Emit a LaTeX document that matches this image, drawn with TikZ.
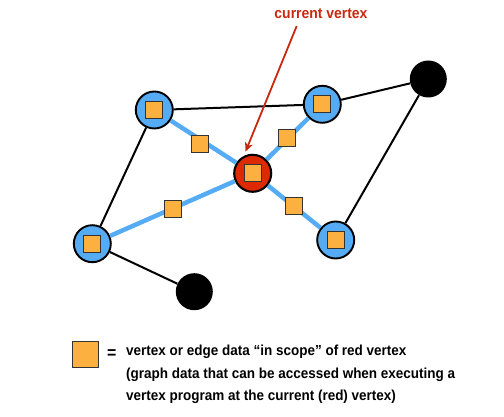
\documentclass[tikz,border=0pt]{standalone}
\usepackage{fontspec}
\setmainfont{Liberation Sans}[FakeStretch=0.93]
\usetikzlibrary{arrows.meta}
\definecolor{vblue}{HTML}{55ACF5}
\definecolor{dorange}{HTML}{FBB03F}
\definecolor{vred}{HTML}{DD2A00}
\definecolor{lred}{HTML}{C8280E}
\begin{document}
\begin{tikzpicture}[x=1pt,y=-1pt,
  bvert/.style={circle,draw=black,line width=1.9pt,fill=vblue,minimum size=37pt,inner sep=0pt},
  rvert/.style={circle,draw=black,line width=2.1pt,fill=vred,minimum size=37pt,inner sep=0pt},
  kvert/.style={circle,fill=black,minimum size=37pt,inner sep=0pt},
  dsq/.style={draw=black!80,line width=0.7pt,fill=dorange,minimum size=17pt,inner sep=0pt},
  bedge/.style={vblue,line width=4.5pt},
  kedge/.style={black,line width=2pt},
  txt/.style={font=\bfseries\fontsize{14.5}{22.5}\selectfont,align=left,inner sep=0pt}]
\useasboundingbox (0,0) rectangle (504,417);
% vertices
\node[bvert] (tl) at (154.3,110) {};
\node[bvert] (tr) at (322.3,104.3) {};
\node[kvert] (ktr) at (428.3,79) {};
\node[rvert] (c) at (252.7,173.3) {};
\node[bvert] (l) at (92.3,243.7) {};
\node[bvert] (br) at (335.7,240) {};
\node[kvert] (kb) at (194.3,291.7) {};
% edges
\draw[kedge] (tl) -- (tr);
\draw[kedge] (tr) -- (ktr);
\draw[kedge] (ktr) -- (br);
\draw[kedge] (tl) -- (l);
\draw[kedge] (l) -- (kb);
\draw[bedge] (tl) -- (c);
\draw[bedge] (tr) -- (c);
\draw[bedge] (l) -- (c);
\draw[bedge] (c) -- (br);
% vertex data squares
\node[dsq] (stl) at (tl.center) {};
\node[dsq] (str) at (tr.center) {};
\node[dsq] (sc) at (c.center) {};
\node[dsq] (sl) at (l.center) {};
\node[dsq] (sbr) at (br.center) {};
% edge data squares
\node[dsq] (e1) at (199.7,144) {};
\node[dsq] (e2) at (287.3,137.7) {};
\node[dsq] (e3) at (173,209) {};
\node[dsq] (e4) at (293.7,205.7) {};
% label and arrow
\node[font=\bfseries\fontsize{15}{16}\selectfont,text=lred,inner sep=0pt] (lab) at (321,13.3) {current vertex};
\coordinate (labfoot) at (296.7,26);
\coordinate (tip) at (245.5,151.7);
\draw[lred,line width=1.8pt,-{Stealth[length=9pt,width=8pt,inset=2.5pt]}] (labfoot) -- (tip);
% legend
\node[dsq,minimum size=26.5pt,line width=1pt] (leg) at (85.3,354.3) {};
\node[txt,anchor=west,font=\bfseries\fontsize{17}{20}\selectfont] (eq) at (107,354.5) {=};
\node[txt,anchor=north west] (legtxt) at (126,345) {vertex or edge data “in scope” of red vertex\\(graph data that can be accessed when executing a\\vertex program at the current (red) vertex)};
\end{tikzpicture}
\end{document}
